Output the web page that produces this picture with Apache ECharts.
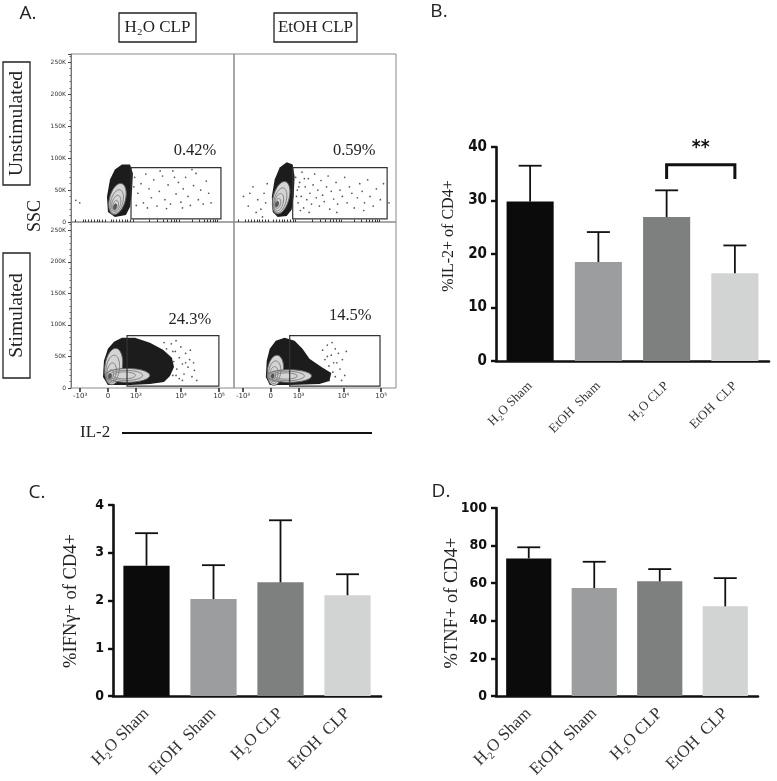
<!DOCTYPE html>
<html><head><meta charset="utf-8">
<script src="https://cdn.jsdelivr.net/npm/echarts@6/dist/echarts.min.js"></script>
<style>html,body{margin:0;padding:0;background:#fff}#c{width:777px;height:781px}</style>
</head><body><div id="c"></div><script>
// ---------------- Bar panels (B, C, D) ----------------
const groups = ['H₂O Sham', 'EtOH  Sham', 'H₂O CLP', 'EtOH  CLP'];
const barColors = ['#0b0b0b', '#9c9d9f', '#7e7f7f', '#d2d3d3'];
const il2Mean = [29.8, 18.5, 26.9, 16.4];
const il2Err  = [6.7, 5.6, 5.0, 5.2];
const ifngMean = [2.73, 2.03, 2.38, 2.11];
const ifngErr  = [0.68, 0.71, 1.30, 0.44];
const tnfMean = [73.2, 57.4, 61.0, 47.7];
const tnfErr  = [5.9, 14.0, 6.5, 15.0];
const sigPair = [2, 3];
const sigBracket = [36.7, 34.0];
const sigStarY = 39.8;
const sigLabel = '**';

// ---------------- Flow panels (A) ----------------
// x in display channels (0-1024, biexponential IL-2 scale), y in SSC (K)
const il2TickChannels = [57, 232, 408, 691, 930];
const il2TickLabels = ['-10³', '0', '10³', '10⁴', '10⁵'];
const il2MinorChannels = [74, 92, 109, 127, 144, 162, 180, 197, 215, 250, 267, 285, 302, 320, 338, 355, 373, 390,
  493, 543, 578, 606, 628, 647, 664, 678, 763, 805, 835, 858, 877, 893, 907, 919, 25];
const flowColTitles = ['H₂O CLP', 'EtOH CLP'];
const flowRowTitles = ['Unstimulated', 'Stimulated'];
const gatePercents = ['0.42%', '0.59%', '24.3%', '14.5%'];
const gates = [[377, 5, 942, 85], [371, 5, 968, 85], [352, 3, 929, 83], [352, 3, 923, 83]];
const pctPos = [[779, 112], [760, 112], [747, 108], [735, 115]];

const cloudTL = [[232,15.8],[226,39.6],[245,66.5],[276,82.3],[320,90.2],[371,90.2],[389,76],[383,47.5],[371,23.7],[345,11],[276,7.9]];
const cloudTR = [[245,15.8],[239,39.6],[257,66.5],[289,85.4],[333,93.4],[371,90.2],[383,71.2],[377,39.6],[364,19],[333,9.5],[276,7.9]];
const cloudBL = [[201,17.5],[207,43],[232,62.1],[270,73.2],[320,79.6],[402,79.6],[496,71.7],[578,60.5],[634,47.8],[647,33.4],[622,19.1],[584,9.6],[496,6.4],[371,4.8],[232,4.8]];
const cloudBR = [[201,17.5],[207,43],[226,62.1],[264,74.8],[320,79.6],[383,74.8],[433,62.1],[477,46.2],[553,33.4],[615,23.9],[603,11.1],[540,6.4],[352,4.8],[226,4.8]];

// contour rings: [centre ch, centre K, radius ch, radius K, tilt deg, level]
const ringsTL = [[292,36,50,25,15,0],[288,32,38,19,15,1],[284,29,27,13,15,1],[280,26,17,8,15,1],[277,24,9,4.5,15,2]];
const ringsTR = [[298,38,50,26,15,0],[292,34,38,20,15,1],[284,31,27,14,15,1],[277,29,17,8,15,1],[272,28,9,4.5,15,2]];
const ringsBL = [[268,34,55,29,8,0],[355,20,140,11,0,0],[262,30,42,22,8,1],[345,20,105,8,0,1],[255,25,29,15,8,1],[335,20,70,5.5,0,1],[249,21,17,8,8,1],[245,19,9,4,8,2]];
const ringsBR = [[262,28,50,24,8,0],[350,19,140,10,0,0],[257,25,38,18,8,1],[340,19,105,7.5,0,1],[252,22,26,12,8,1],[330,19,70,5,0,1],[248,20,15,7,8,1],[245,19,8,3.5,8,2]];

const dotsTL = [[400,70],[420,45],[440,60],[455,30],[470,75],[490,52],[505,38],[520,66],[540,25],[555,48],[575,72],[590,35],[610,58],[625,28],[640,80],[660,44],[675,62],[690,31],[705,52],[720,70],[735,40],[750,26],[770,57],[785,76],[800,35],[815,50],[830,28],[850,64],[865,45],[880,30],[700,22],[600,21],[480,22],[410,26],[560,80],[760,82],[30,34],[55,30],[395,55],[650,70]];
const dotsTR = [[60,40],[90,25],[120,55],[150,35],[170,20],[190,45],[200,30],[140,15],[100,45],[210,60],[180,8],
  [390,70],[400,50],[405,30],[415,62],[425,40],[430,78],[440,22],[450,55],[460,35],[470,68],[480,45],[490,28],[500,58],[510,75],[520,38],[530,50],[540,25],[550,65],[560,42],[570,32],[585,55],[595,72],[605,20],[615,48],[630,36],[645,62],[655,28],[670,50],[685,40],[700,70],[715,30],[730,55],[745,45],[760,22],[780,38],[795,60],[810,48],[825,30],[845,66],[860,40],[880,25],[900,52],[925,35],[945,60],[980,30],[420,18],[475,15],[650,15],[820,18],[395,40],[410,55],[445,68]];
const dotsBL = [[600,62],[615,50],[630,70],[645,42],[655,58],[665,30],[680,48],[690,65],[700,38],[710,22],[720,55],[735,33],[745,45],[760,18],[775,28],[790,12],[700,12],[640,20],[585,72],[660,75],[720,40],[680,15],[750,60],[770,40],[610,35],[660,20],[640,58]];
const dotsBR = [[560,60],[575,45],[590,68],[600,35],[615,52],[625,25],[640,62],[650,40],[660,55],[670,30],[685,45],[700,20],[710,58],[560,30],[620,72],[680,12],[640,18],[600,12],[590,50],[630,40]];

const clouds = [cloudTL, cloudTR, cloudBL, cloudBR];
const rings = [ringsTL, ringsTR, ringsBL, ringsBR];
const dots = [dotsTL, dotsTR, dotsBL, dotsBR];

const SERIF = "'Liberation Serif', 'Times New Roman', serif";
const NARROW = "'Liberation Sans Narrow', 'DejaVu Sans Condensed', 'Liberation Sans', sans-serif";

const ringStyle = [
  {fill: '#d4d4d4', stroke: '#5e5e5e', lineWidth: 1},
  {fill: 'none', stroke: '#7a7a7a', lineWidth: 0.9},
  {fill: '#5a5a5a', stroke: '#444', lineWidth: 0.8}
];

function flowRender(p) {
  return function (params, api) {
    const children = [];
    children.push({type: 'polygon', shape: {points: clouds[p].map(q => api.coord(q))}, style: {fill: '#1c1c1c'}});
    rings[p].forEach(r => {
      const c = api.coord([r[0], r[1]]);
      const s = api.size([r[2], r[3]]);
      const a = r[4] * Math.PI / 180;
      const pts = [];
      for (let k = 0; k < 48; k++) {
        const t = k / 48 * Math.PI * 2;
        const ex = s[0] * Math.cos(t), ey = s[1] * Math.sin(t);
        pts.push([c[0] + ex * Math.cos(a) - ey * Math.sin(a), c[1] + ex * Math.sin(a) + ey * Math.cos(a)]);
      }
      children.push({type: 'polygon', shape: {points: pts}, style: ringStyle[r[5]]});
    });
    const g = gates[p];
    const a = api.coord([g[0], g[3]]), b = api.coord([g[2], g[1]]);
    children.push({type: 'rect', shape: {x: a[0], y: a[1], width: b[0] - a[0], height: b[1] - a[1]},
      style: {fill: 'none', stroke: '#333', lineWidth: 1.2}});
    const t = api.coord(pctPos[p]);
    children.push({type: 'text', x: t[0], y: t[1], style: {text: gatePercents[p], font: '16.5px ' + SERIF, fill: '#222',
      textAlign: 'center', textVerticalAlign: 'middle'}});
    return {type: 'group', children};
  };
}

function errRender(params, api) {
  const i = api.value(0);
  const base = api.coord([i, api.value(1)]);
  const top = api.coord([i, api.value(2)]);
  const hw = 11.5;
  const st = {stroke: '#111', lineWidth: 1.8};
  return {type: 'group', children: [
    {type: 'line', shape: {x1: base[0], y1: base[1], x2: top[0], y2: top[1]}, style: st},
    {type: 'line', shape: {x1: top[0] - hw, y1: top[1], x2: top[0] + hw, y2: top[1]}, style: st}
  ]};
}

function sigRender(params, api) {
  const l = api.coord([api.value(0), api.value(2)]);
  const r = api.coord([api.value(1), api.value(2)]);
  const lb = api.coord([api.value(0), api.value(3)]);
  const st = api.coord([(api.value(0) + api.value(1)) / 2, sigStarY]);
  return {type: 'group', children: [
    {type: 'polyline', shape: {points: [[lb[0], lb[1]], [l[0], l[1]], [r[0], r[1]], [r[0], lb[1]]]},
      style: {stroke: '#111', lineWidth: 3, fill: 'none'}},
    {type: 'text', x: (l[0] + r[0]) / 2, y: st[1], style: {text: sigLabel, font: 'bold 19px ' + NARROW, fill: '#111',
      textAlign: 'center', textVerticalAlign: 'middle'}}
  ]};
}

const flowGrids = [
  {left: 71, top: 54, width: 163, height: 168},
  {left: 234, top: 54, width: 162, height: 168},
  {left: 71, top: 222, width: 163, height: 166},
  {left: 234, top: 222, width: 162, height: 166}
].map(g => Object.assign(g, {show: true, borderColor: '#8a8a8a', borderWidth: 1, containLabel: false, outerBoundsMode: 'none'}));
const barGrids = [
  {left: 496, top: 147, width: 273, height: 214},
  {left: 113, top: 505, width: 268, height: 191},
  {left: 496, top: 508, width: 262, height: 188}
].map(g => Object.assign(g, {containLabel: false, outerBoundsMode: 'none'}));

const xAxes = [];
const yAxes = [];
for (let p = 0; p < 4; p++) {
  const bottom = p >= 2;
  xAxes.push({type: 'value', gridIndex: p, min: 0, max: 1024, axisLine: {show: false}, splitLine: {show: false},
    axisTick: bottom ? {show: true, customValues: il2TickChannels, length: 4, lineStyle: {color: '#222', width: 1.5}} : {show: false},
    axisLabel: bottom ? {show: true, customValues: il2TickChannels, fontSize: 7, color: '#333', margin: 5, fontFamily: 'DejaVu Sans',
      formatter: v => { const k = il2TickChannels.findIndex(c => Math.abs(c - v) < 0.5); return k >= 0 ? il2TickLabels[k] : ''; }} : {show: false}
  });
}
for (let p = 2; p < 4; p++) {
  xAxes.push({type: 'value', gridIndex: p, min: 0, max: 1024, axisLine: {show: false}, splitLine: {show: false},
    axisTick: {show: true, customValues: il2MinorChannels, length: 2.5, lineStyle: {color: '#333', width: 1}},
    axisLabel: {show: false}});
}
[[6, 0], [7, 1], [8, 2]].forEach(([xi, gi]) => {
  xAxes.push({type: 'category', gridIndex: 4 + gi, data: groups,
    axisLine: {lineStyle: {color: '#111', width: 2.6}},
    axisTick: {alignWithLabel: true, length: 7, lineStyle: {color: '#111', width: 2.6}},
    axisLabel: {rotate: 45, interval: 0, margin: gi === 0 ? 23 : 15, fontFamily: SERIF, fontSize: gi === 0 ? 13 : 17, color: '#333'},
    splitLine: {show: false}});
});
for (let p = 0; p < 4; p++) {
  const left = p % 2 === 0;
  yAxes.push({type: 'value', gridIndex: p, min: 0, max: 263, interval: 50, splitLine: {show: false},
    axisLine: {show: left, lineStyle: {color: '#777', width: 1}},
    axisTick: {show: left, length: 3, lineStyle: {color: '#444'}},
    minorTick: {show: left, splitNumber: 5, length: 1.5, lineStyle: {color: '#666'}},
    axisLabel: {show: left, fontSize: 6, color: '#333', margin: 5, showMaxLabel: false, fontFamily: 'DejaVu Sans',
      formatter: v => v === 0 ? '0' : v + 'K'}
  });
}
[[0, 40, 10, 15], [0, 4, 1, 14], [0, 100, 20, 14]].forEach(([mn, mx, iv, fs], gi) => {
  yAxes.push({type: 'value', gridIndex: 4 + gi, min: mn, max: mx, interval: iv, splitLine: {show: false},
    axisLine: {show: true, lineStyle: {color: '#111', width: 2.6}},
    axisTick: {show: true, length: 5, lineStyle: {color: '#111', width: 2.4}},
    axisLabel: {fontFamily: NARROW, fontWeight: 'bold', fontSize: fs, color: '#111', margin: 9}
  });
});

const series = [];
for (let p = 0; p < 4; p++) {
  series.push({type: 'custom', xAxisIndex: p, yAxisIndex: p, data: [[0, 0]], renderItem: flowRender(p), silent: true, z: 2});
  series.push({type: 'scatter', xAxisIndex: p, yAxisIndex: p, data: dots[p], symbol: 'circle', symbolSize: 1.7,
    itemStyle: {color: '#2a2a2a'}, silent: true, z: 3});
}
[[il2Mean, il2Err], [ifngMean, ifngErr], [tnfMean, tnfErr]].forEach(([m, e], gi) => {
  series.push({type: 'bar', xAxisIndex: 6 + gi, yAxisIndex: 4 + gi, barWidth: '69%',
    data: m.map((v, i) => ({value: v, itemStyle: {color: barColors[i]}})), silent: true, z: 2});
  series.push({type: 'custom', xAxisIndex: 6 + gi, yAxisIndex: 4 + gi, renderItem: errRender, silent: true, z: 3,
    data: m.map((v, i) => [i, v, v + e[i]])});
});
series.push({type: 'custom', xAxisIndex: 6, yAxisIndex: 4, renderItem: sigRender, silent: true, z: 4,
  data: [[sigPair[0], sigPair[1], sigBracket[0], sigBracket[1]]]});

function txt(x, y, text, font, opts) {
  return Object.assign({type: 'text', x, y, silent: true,
    style: Object.assign({text, font, fill: '#222', textAlign: 'center', textVerticalAlign: 'middle'}, (opts && opts.style) || {})},
    opts && opts.rotation ? {rotation: opts.rotation} : {});
}
function box(x, y, w, h) {
  return {type: 'rect', silent: true, shape: {x, y, width: w, height: h}, style: {fill: 'none', stroke: '#222', lineWidth: 1.3}};
}
const R = Math.PI / 2;
const graphic = [
  txt(28, 14, 'A.', '19px "Open Sans"'),
  txt(439, 12, 'B.', '19px "Open Sans"'),
  txt(37, 493, 'C.', '19px "Open Sans"'),
  txt(441, 492, 'D.', '19px "Open Sans"'),
  box(119, 13, 77, 29), txt(157.5, 28, flowColTitles[0], '17px ' + SERIF),
  box(274, 13, 83, 29), txt(315.5, 28, flowColTitles[1], '17px ' + SERIF),
  box(3, 62, 27, 123), txt(17, 123.5, flowRowTitles[0], '19.5px ' + SERIF, {rotation: R}),
  box(3, 253, 27, 125), txt(17, 315.5, flowRowTitles[1], '19.5px ' + SERIF, {rotation: R}),
  txt(35, 216, 'SSC', '18px ' + SERIF, {rotation: R}),
  txt(80, 433, 'IL-2', '17px ' + SERIF, {style: {textAlign: 'left'}}),
  {type: 'line', silent: true, shape: {x1: 122, y1: 433, x2: 372, y2: 433}, style: {stroke: '#111', lineWidth: 2}},
  txt(449, 236, '%IL-2+ of CD4+', '16px ' + SERIF, {rotation: R}),
  txt(71, 601, '%IFNγ+ of CD4+', '18.5px ' + SERIF, {rotation: R}),
  txt(452, 603, '%TNF+ of CD4+', '18.5px ' + SERIF, {rotation: R})
];

const chart = echarts.init(document.getElementById('c'));
chart.setOption({
  animation: false,
  backgroundColor: '#fff',
  grid: flowGrids.concat(barGrids),
  xAxis: xAxes,
  yAxis: yAxes,
  series,
  graphic
});
</script></body></html>
